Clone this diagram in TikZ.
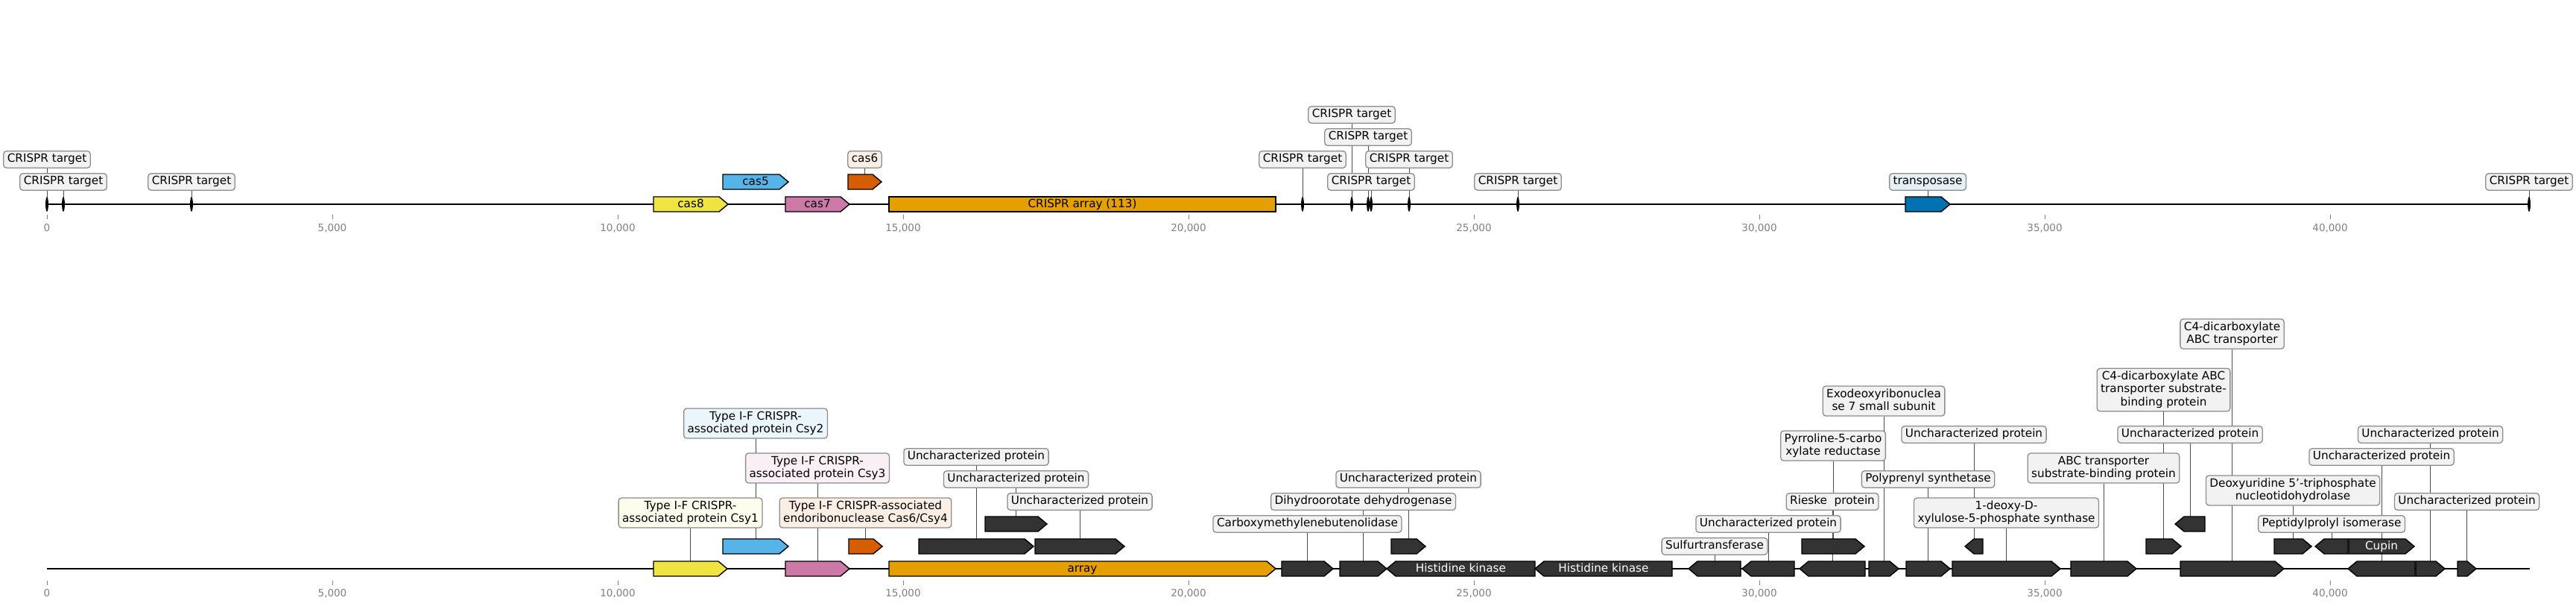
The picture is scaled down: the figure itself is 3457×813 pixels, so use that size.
\documentclass[tikz,border=0pt]{standalone}
\usepackage{fontspec}
\setmainfont{DejaVu Sans}
\pgfdeclarelayer{bgl}
\pgfdeclarelayer{conn}
\pgfsetlayers{bgl,conn,main}
\definecolor{cyel}{HTML}{F0E442}
\definecolor{cblu}{HTML}{56B4E9}
\definecolor{cpnk}{HTML}{CC79A7}
\definecolor{corg}{HTML}{D55E00}
\definecolor{carr}{HTML}{E69F00}
\definecolor{ctrn}{HTML}{0072B2}
\definecolor{cdrk}{HTML}{333333}
\definecolor{labgray}{HTML}{8C8C8C}
\definecolor{conncol}{HTML}{4D4D4D}
\definecolor{tickgray}{HTML}{808080}
\colorlet{cyelL}{cyel!10!white}
\colorlet{cbluL}{cblu!12!white}
\colorlet{cpnkL}{cpnk!12!white}
\colorlet{corgL}{corg!10!white}
\colorlet{ctrnL}{ctrn!10!white}
\colorlet{tgtf}{black!5}
\newcommand\lbfont{\fontsize{15.25}{17.5}\selectfont}
\newcommand\tkfont{\fontsize{13.5}{16}\selectfont}
\newcommand\gs{\rule[-3.7pt]{0pt}{15.3pt}}
\tikzset{
  lab/.style={draw=labgray, line width=1.3pt, rounded corners=4pt, inner xsep=5pt, inner ysep=3.6pt, align=center, font=\lbfont, fill=#1},
  lab/.default=tgtf,
  cline/.style={draw=conncol, line width=1pt},
  gstyle/.style={draw=black, line width=1.4pt, line join=miter},
  gtext/.style={font=\lbfont, inner sep=0pt, text height=11.6pt, text depth=3.6pt, text=black},
  wtext/.style={font=\lbfont, inner sep=0pt, text height=11.6pt, text depth=3.6pt, text=white},
  track/.style={draw=black, line width=2.7pt},
  tickc/.style={draw=tickgray, line width=1pt},
  ticklab/.style={font=\tkfont, text=tickgray, inner sep=0pt},
}
% forward gene: name, x1, x2, yc, fill
\newcommand\fwd[5]{%
  \draw[gstyle, fill=#5] (#2,#4-10) -- ({max(#2,#3-12)},#4-10) -- (#3,#4) -- ({max(#2,#3-12)},#4+10) -- (#2,#4+10) -- cycle;
  \coordinate (#1) at ({(#2+#3)/2},#4);}
% reverse gene
\newcommand\rev[5]{%
  \draw[gstyle, fill=#5] (#2,#4) -- ({min(#3,#2+12)},#4-10) -- (#3,#4-10) -- (#3,#4+10) -- ({min(#3,#2+12)},#4+10) -- cycle;
  \coordinate (#1) at ({(#2+#3)/2},#4);}
% label: node name, target coordinate, y, fill, text
\newcommand\glab[5]{%
  \node[lab=#4] (#1) at (#2 |- 0,#3) {#5};
  \begin{pgfonlayer}{conn}\draw[cline] (#1) -- (#2);\end{pgfonlayer}}
% CRISPR target mark: name, x
\newcommand\tgt[2]{%
  \coordinate (#1) at (#2,274);
  \fill[black] (#1) ellipse [x radius=1.9, y radius=10];}
\begin{document}
\begin{tikzpicture}[x=1pt,y=-1pt]
\useasboundingbox (0,0) rectangle (3457,813);
\begin{pgfonlayer}{bgl}
\fill[white] (0,0) rectangle (3457,813);
\end{pgfonlayer}

% axes
\foreach \i/\t in {0/0,1/{5,000},2/{10,000},3/{15,000},4/{20,000},5/{25,000},6/{30,000},7/{35,000},8/{40,000}} {
  \draw[tickc] ({63+383*\i},288) -- ({63+383*\i},294);
  \node[ticklab] (ta\i) at ({63+383*\i},306) {\t};
  \draw[tickc] ({63+383*\i},779) -- ({63+383*\i},785);
  \node[ticklab] (tb\i) at ({63+383*\i},796) {\t};
}

% ================= TOP TRACK =================
\coordinate (topS) at (63,274);
\coordinate (topE) at (3395,274);
\draw[track] (topS) -- (topE);

\fwd{c8}{877}{977}{274}{cyel}
\node[gtext] (c8t) at (c8) {cas8};
\fwd{c5}{970}{1058}{244}{cblu}
\node[gtext] (c5t) at (c5) {cas5};
\fwd{c7}{1054}{1140}{274}{cpnk}
\node[gtext] (c7t) at (c7) {cas7};
\fwd{c6}{1138}{1183}{244}{corg}
\draw[gstyle, fill=carr] (1193,264) rectangle (1712,284);
\coordinate (ca) at (1452.5,274);
\node[gtext] (cat) at (ca) {CRISPR array (113)};
\fwd{tp}{2557}{2617}{274}{ctrn}

\tgt{x1}{63}
\tgt{x2}{85}
\tgt{x3}{257}
\tgt{x4}{1748}
\tgt{x5}{1814}
\tgt{x6}{1836}
\tgt{x7}{1840}
\tgt{x8}{1891}
\tgt{x9}{2037}
\tgt{x10}{3394}

\glab{c6L}{c6}{214}{corgL}{\gs cas6}
\glab{tpL}{tp}{244}{ctrnL}{\gs transposase}
\glab{X1}{x1}{214}{tgtf}{\gs CRISPR target}
\glab{X2}{x2}{244}{tgtf}{\gs CRISPR target}
\glab{X3}{x3}{244}{tgtf}{\gs CRISPR target}
\glab{X4}{x4}{214}{tgtf}{\gs CRISPR target}
\glab{X5}{x5}{154}{tgtf}{\gs CRISPR target}
\glab{X6}{x6}{184}{tgtf}{\gs CRISPR target}
\glab{X8}{x8}{214}{tgtf}{\gs CRISPR target}
\glab{X7}{x7}{244}{tgtf}{\gs CRISPR target}
\glab{X9}{x9}{244}{tgtf}{\gs CRISPR target}
\glab{X10}{x10}{244}{tgtf}{\gs CRISPR target}

% ================= BOTTOM TRACK =================
\coordinate (botS) at (63,763);
\coordinate (botE) at (3395,763);
\draw[track] (botS) -- (botE);

\fwd{b1}{877}{976}{763}{cyel}
\fwd{b2}{970}{1058}{733}{cblu}
\fwd{b3}{1054}{1140}{763}{cpnk}
\fwd{b4}{1139}{1184}{733}{corg}
\fwd{b5}{1193}{1712}{763}{carr}
\node[gtext] (b5t) at (b5) {array};
\fwd{b6}{1233}{1387}{733}{cdrk}
\fwd{b7}{1322}{1405}{703}{cdrk}
\fwd{b8}{1389}{1509}{733}{cdrk}
\fwd{b9}{1720}{1789}{763}{cdrk}
\fwd{b10}{1798}{1861}{763}{cdrk}
\fwd{b11}{1867}{1913}{733}{cdrk}
\rev{b12}{1861}{2060}{763}{cdrk}
\node[wtext] (b12t) at (b12) {Histidine kinase};
\rev{b13}{2060}{2244}{763}{cdrk}
\node[wtext] (b13t) at (b13) {Histidine kinase};
\rev{b14}{2266}{2336}{763}{cdrk}
\rev{b15}{2338}{2408}{763}{cdrk}
\rev{b16}{2415}{2503}{763}{cdrk}
\fwd{b17}{2418}{2502}{733}{cdrk}
\fwd{b18}{2508}{2548}{763}{cdrk}
\fwd{b19}{2558}{2617}{763}{cdrk}
\fwd{b20}{2620}{2765}{763}{cdrk}
\rev{b21}{2637}{2661}{733}{cdrk}
\fwd{b22}{2779}{2867}{763}{cdrk}
\fwd{b23}{2880}{2927}{733}{cdrk}
\rev{b24}{2919}{2959}{703}{cdrk}
\fwd{b25}{2926}{3065}{763}{cdrk}
\fwd{b26}{3052}{3102}{733}{cdrk}
\rev{b27}{3107}{3151}{733}{cdrk}
\fwd{b28}{3152}{3240}{733}{cdrk}
\node[wtext] (b28t) at (b28) {Cupin};
\rev{b29}{3151}{3241}{763}{cdrk}
\fwd{b30}{3242}{3281}{763}{cdrk}
\fwd{b31}{3298}{3323}{763}{cdrk}

\glab{B1}{b1}{688}{cyelL}{\gs Type I-F CRISPR-\\\gs associated protein Csy1}
\glab{B2}{b2}{568}{cbluL}{\gs Type I-F CRISPR-\\\gs associated protein Csy2}
\glab{B3}{b3}{628}{cpnkL}{\gs Type I-F CRISPR-\\\gs associated protein Csy3}
\glab{B4}{b4}{688}{corgL}{\gs Type I-F CRISPR-associated\\\gs endoribonuclease Cas6/Csy4}
\glab{B6}{b6}{613}{tgtf}{\gs Uncharacterized protein}
\glab{B7}{b7}{643}{tgtf}{\gs Uncharacterized protein}
\glab{B8}{b8}{673}{tgtf}{\gs Uncharacterized protein}
\glab{B9}{b9}{703}{tgtf}{\gs Carboxymethylenebutenolidase}
\glab{B10}{b10}{673}{tgtf}{\gs Dihydroorotate dehydrogenase}
\glab{B11}{b11}{643}{tgtf}{\gs Uncharacterized protein}
\glab{B14}{b14}{733}{tgtf}{\gs Sulfurtransferase}
\glab{B15}{b15}{703}{tgtf}{\gs Uncharacterized protein}
\glab{B17}{b17}{598}{tgtf}{\gs Pyrroline-5-carbo\\\gs xylate reductase}
\glab{B16}{b16}{673}{tgtf}{\gs Rieske\ \ protein}
\glab{B18}{b18}{538}{tgtf}{\gs Exodeoxyribonuclea\\\gs se 7 small subunit}
\glab{B21}{b21}{583}{tgtf}{\gs Uncharacterized protein}
\glab{B19}{b19}{643}{tgtf}{\gs Polyprenyl synthetase}
\glab{B20}{b20}{688}{tgtf}{\gs 1-deoxy-D-\\\gs xylulose-5-phosphate synthase}
\glab{B25}{b25}{448}{tgtf}{\gs C4-dicarboxylate\\\gs ABC transporter}
\glab{B23}{b23}{523}{tgtf}{\gs C4-dicarboxylate ABC\\\gs transporter substrate-\\\gs binding protein}
\glab{B24}{b24}{583}{tgtf}{\gs Uncharacterized protein}
\glab{B22}{b22}{628}{tgtf}{\gs ABC transporter\\\gs substrate-binding protein}
\glab{B26}{b26}{658}{tgtf}{\gs Deoxyuridine 5'-triphosphate\\\gs nucleotidohydrolase}
\glab{B27}{b27}{703}{tgtf}{\gs Peptidylprolyl isomerase}
\glab{B30}{b30}{583}{tgtf}{\gs Uncharacterized protein}
\glab{B29}{b29}{613}{tgtf}{\gs Uncharacterized protein}
\glab{B31}{b31}{673}{tgtf}{\gs Uncharacterized protein}
\end{tikzpicture}
\end{document}
